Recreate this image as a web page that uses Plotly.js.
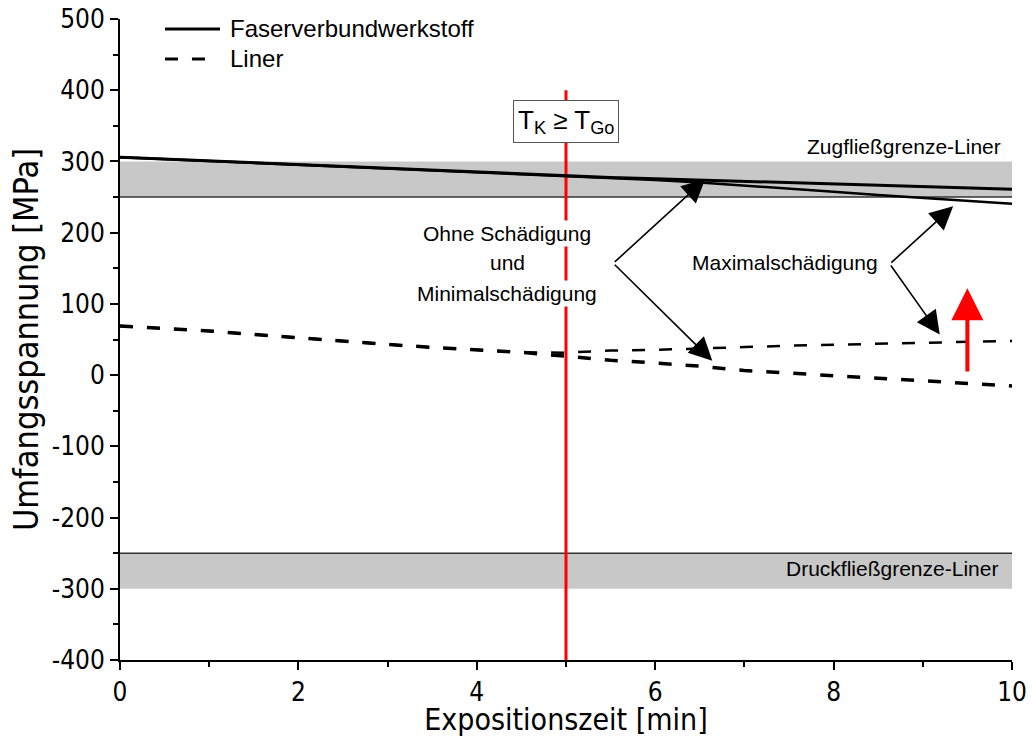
<!DOCTYPE html>
<html>
<head>
<meta charset="utf-8">
<script src="https://cdn.plot.ly/plotly-3.0.1.min.js"></script>
<style>html,body{margin:0;padding:0;background:#fff;}#chart{width:1032px;height:737px;}</style>
</head>
<body>
<div id="chart"></div>
<script>
// Time axis (minutes)
const timeMin = [0, 0.5, 1, 1.5, 2, 2.5, 3, 3.5, 4, 4.5, 5, 5.5, 6, 6.5, 7, 7.5, 8, 8.5, 9, 9.5, 10];
// Faserverbundwerkstoff (solid)
const fvwOhne = [306, 303.4, 300.7, 298.1, 295.4, 292.8, 290.1, 287.5, 284.8, 282.2, 279.5, 277.6, 275.8, 274.0, 272.1, 270.3, 268.4, 266.6, 264.7, 262.9, 261];
const fvwMax  = [306, 303.4, 300.7, 298.1, 295.4, 292.8, 290.1, 287.5, 284.8, 282.2, 279.5, 277.0, 274.0, 270.5, 266.5, 262.0, 257.5, 253.0, 248.5, 244.5, 240.5];
// Liner (dashed)
const linerOhne = [69, 66, 62, 57, 52, 47, 43, 39, 35.5, 32, 26.5, 20.8, 17, 12.6, 6.4, 2.7, -0.8, -5, -8.6, -11.8, -15.2];
const linerMax  = [69, 66, 62, 57, 52, 47, 43, 39, 35.5, 32, 31.5, 34.5, 35.5, 37, 39.3, 41.3, 42.6, 44.5, 46, 47.2, 48];
// Tick labels
const xTickVals = [0, 2, 4, 6, 8, 10];
const xTickText = ['0', '2', '4', '6', '8', '10'];
const yTickVals = [-400, -300, -200, -100, 0, 100, 200, 300, 400, 500];
const yTickText = ['-400', '-300', '-200', '-100', '0', '100', '200', '300', '400', '500'];
// Legend entries
const legendNames = ['Faserverbundwerkstoff', 'Liner'];
// Yield limits of the liner (MPa)
const zugGrenze = [250, 300];
const druckGrenze = [-300, -250];
const tempMarkX = 5;
const tempMarkY = [-400, 400];
// Red arrow (increase of liner stress)
const redArrowX = 9.5;
const redArrowY = [3, 122];

const FONT = 'Arial, "Liberation Sans", sans-serif';
const NARROW = '"Liberation Sans Narrow", "Arial Narrow", "DejaVu Sans Condensed", Arial, sans-serif';
const DASH = '13px,14px';

const traces = [
  {x: timeMin, y: fvwOhne, mode: 'lines', name: legendNames[0], line: {color: '#000', width: 3}},
  {x: timeMin, y: fvwMax, mode: 'lines', name: legendNames[0], line: {color: '#000', width: 2.5}},
  {x: timeMin, y: linerOhne, mode: 'lines', name: legendNames[1], line: {color: '#000', width: 3.5, dash: DASH}},
  {x: timeMin, y: linerMax, mode: 'lines', name: legendNames[1], line: {color: '#000', width: 2.5, dash: DASH}}
];

const shapes = [
  {type: 'rect', xref: 'x', yref: 'y', x0: 0, x1: 10, y0: zugGrenze[0], y1: zugGrenze[1], fillcolor: '#c8c8c8', line: {width: 0}, layer: 'below'},
  {type: 'line', xref: 'x', yref: 'y', x0: 0, x1: 10, y0: zugGrenze[0], y1: zugGrenze[0], line: {color: '#333', width: 1.5}, layer: 'below'},
  {type: 'rect', xref: 'x', yref: 'y', x0: 0, x1: 10, y0: druckGrenze[0], y1: druckGrenze[1], fillcolor: '#c8c8c8', line: {width: 0}, layer: 'below'},
  {type: 'line', xref: 'x', yref: 'y', x0: 0, x1: 10, y0: druckGrenze[1], y1: druckGrenze[1], line: {color: '#333', width: 1.5}, layer: 'below'},
  {type: 'line', xref: 'x', yref: 'y', x0: tempMarkX, x1: tempMarkX, y0: tempMarkY[0], y1: tempMarkY[1], line: {color: '#ff0000', width: 3}, layer: 'below'},
  // legend samples
  {type: 'line', xref: 'paper', yref: 'paper', x0: 0.0504, x1: 0.1121, y0: 0.9844, y1: 0.9844, line: {color: '#000', width: 3}},
  {type: 'line', xref: 'paper', yref: 'paper', x0: 0.0504, x1: 0.0975, y0: 0.9376, y1: 0.9376, line: {color: '#000', width: 3, dash: DASH}}
];

const blackArrow = {showarrow: true, arrowhead: 2, arrowsize: 2.9, arrowwidth: 1.6, arrowcolor: '#000', axref: 'x', ayref: 'y', xref: 'x', yref: 'y', text: ''};
const txt = (x, y, text, extra) => Object.assign({x: x, y: y, xref: 'x', yref: 'y', text: text, showarrow: false,
  font: {family: FONT, size: 21, color: '#000'}}, extra || {});

const annotations = [
  // legend texts
  {x: 0.1211, y: 0.9844, xref: 'paper', yref: 'paper', xanchor: 'left', yanchor: 'middle', text: legendNames[0], showarrow: false, font: {family: FONT, size: 24, color: '#000'}},
  {x: 0.1211, y: 0.9376, xref: 'paper', yref: 'paper', xanchor: 'left', yanchor: 'middle', text: legendNames[1], showarrow: false, font: {family: FONT, size: 24, color: '#000'}},
  {x: tempMarkX, y: 356, xref: 'x', yref: 'y', text: 'T<sub>K</sub> ≥ T<sub>Go</sub>', showarrow: false,
   font: {family: FONT, size: 26, color: '#000'}, bgcolor: '#fff', bordercolor: '#555', borderwidth: 1, borderpad: 4},
  txt(4.34, 199, 'Ohne Schädigung', {bgcolor: '#fff'}),
  txt(4.34, 157.5, 'und', {bgcolor: '#fff'}),
  txt(4.34, 115, 'Minimalschädigung', {bgcolor: '#fff'}),
  txt(7.46, 157.5, 'Maximalschädigung', {bgcolor: '#fff'}),
  txt(9.9, 321.5, 'Zugfließgrenze-Liner', {xanchor: 'right'}),
  txt(9.87, -272, 'Druckfließgrenze-Liner', {xanchor: 'right'}),
  Object.assign({}, blackArrow, {x: 6.56, y: 275, ax: 5.53, ay: 157}),
  Object.assign({}, blackArrow, {x: 6.64, y: 20, ax: 5.53, ay: 157}),
  Object.assign({}, blackArrow, {x: 9.34, y: 237, ax: 8.63, ay: 156}),
  Object.assign({}, blackArrow, {x: 9.19, y: 57, ax: 8.63, ay: 156}),
  {x: redArrowX, y: redArrowY[1], ax: redArrowX, ay: redArrowY[0], xref: 'x', yref: 'y', axref: 'x', ayref: 'y', text: '',
   showarrow: true, arrowhead: 2, arrowsize: 1.6, arrowwidth: 4, arrowcolor: '#ff0000'}
];

const layout = {
  width: 1032, height: 737,
  margin: {l: 120, r: 20, t: 19, b: 77},
  paper_bgcolor: '#fff', plot_bgcolor: '#fff',
  font: {family: FONT, color: '#000', size: 19},
  showlegend: false,
  xaxis: {
    range: [0, 10], tickmode: 'array', tickvals: xTickVals, ticktext: xTickText, showgrid: false, zeroline: false,
    showline: true, linecolor: '#000', linewidth: 2, ticks: 'outside', ticklen: 8, tickwidth: 2, tickcolor: '#000',
    minor: {dtick: 1, ticks: 'outside', ticklen: 5, tickwidth: 2, tickcolor: '#000', showgrid: false},
    tickfont: {size: 26, family: NARROW},
    title: {text: 'Expositionszeit [min]', font: {size: 30, family: NARROW}, standoff: 5}
  },
  yaxis: {
    range: [-400, 500], tickmode: 'array', tickvals: yTickVals, ticktext: yTickText, showgrid: false, zeroline: false,
    showline: true, linecolor: '#000', linewidth: 2, ticks: 'outside', ticklen: 8, tickwidth: 2, tickcolor: '#000',
    minor: {dtick: 50, ticks: 'outside', ticklen: 5, tickwidth: 2, tickcolor: '#000', showgrid: false},
    tickfont: {size: 26, family: NARROW},
    title: {text: 'Umfangsspannung [MPa]', font: {size: 34, family: NARROW}, standoff: 3}
  },
  shapes: shapes,
  annotations: annotations
};

Plotly.newPlot('chart', traces, layout, {displayModeBar: false, staticPlot: true});
</script>
</body>
</html>
